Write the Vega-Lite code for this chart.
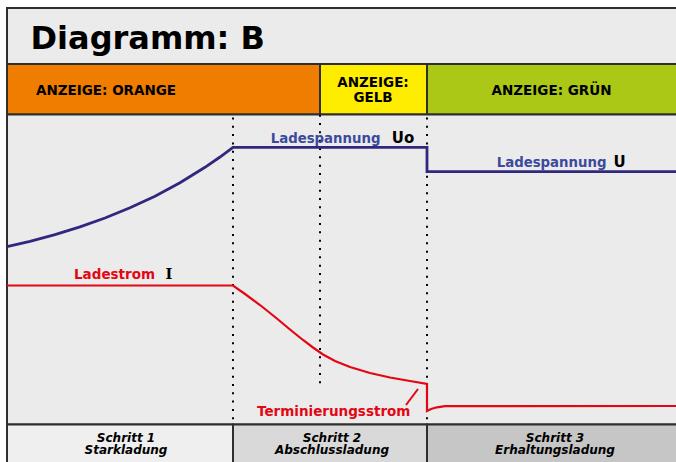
{
  "$schema": "https://vega.github.io/schema/vega-lite/v6.json",
  "width": 676,
  "height": 462,
  "autosize": {"type": "fit", "contains": "padding"},
  "padding": 0,
  "background": "#ffffff",
  "config": {"view": {"stroke": null}},
  "datasets": {
    "flaechen": [
      {"teil": "Titel", "x": 7, "x2": 680, "y": 8, "y2": 64},
      {"teil": "Orange", "x": 7, "x2": 320, "y": 64, "y2": 114.5},
      {"teil": "Gelb", "x": 320, "x2": 427, "y": 64, "y2": 114.5},
      {"teil": "Grün", "x": 427, "x2": 680, "y": 64, "y2": 114.5},
      {"teil": "Diagramm", "x": 7, "x2": 680, "y": 114.5, "y2": 424.5},
      {"teil": "Schritt 1", "x": 7, "x2": 233, "y": 424.5, "y2": 470},
      {"teil": "Schritt 2", "x": 233, "x2": 427, "y": 424.5, "y2": 470},
      {"teil": "Schritt 3", "x": 427, "x2": 680, "y": 424.5, "y2": 470}
    ],
    "kurven": [
      {"kurve": "Spannung", "i": 1, "x": 7, "y": 246.7},
      {"kurve": "Spannung", "i": 2, "x": 30, "y": 241.3},
      {"kurve": "Spannung", "i": 3, "x": 55, "y": 234.6},
      {"kurve": "Spannung", "i": 4, "x": 80, "y": 226.9},
      {"kurve": "Spannung", "i": 5, "x": 105, "y": 218.0},
      {"kurve": "Spannung", "i": 6, "x": 130, "y": 207.8},
      {"kurve": "Spannung", "i": 7, "x": 155, "y": 196.2},
      {"kurve": "Spannung", "i": 8, "x": 180, "y": 182.7},
      {"kurve": "Spannung", "i": 9, "x": 205, "y": 167.3},
      {"kurve": "Spannung", "i": 10, "x": 220, "y": 157.0},
      {"kurve": "Spannung", "i": 11, "x": 233, "y": 147.3},
      {"kurve": "Spannung", "i": 12, "x": 427, "y": 147.3},
      {"kurve": "Spannung", "i": 13, "x": 427, "y": 171.7},
      {"kurve": "Spannung", "i": 14, "x": 680, "y": 171.7},
      {"kurve": "Strom", "i": 1, "x": 7, "y": 285.5},
      {"kurve": "Strom", "i": 2, "x": 233, "y": 285.5},
      {"kurve": "Strom", "i": 3, "x": 245, "y": 294},
      {"kurve": "Strom", "i": 4, "x": 260, "y": 305},
      {"kurve": "Strom", "i": 5, "x": 275, "y": 317},
      {"kurve": "Strom", "i": 6, "x": 290, "y": 329.5},
      {"kurve": "Strom", "i": 7, "x": 303, "y": 340},
      {"kurve": "Strom", "i": 8, "x": 313, "y": 347.5},
      {"kurve": "Strom", "i": 9, "x": 323, "y": 354.5},
      {"kurve": "Strom", "i": 10, "x": 335, "y": 361},
      {"kurve": "Strom", "i": 11, "x": 350, "y": 367},
      {"kurve": "Strom", "i": 12, "x": 370, "y": 373},
      {"kurve": "Strom", "i": 13, "x": 390, "y": 377.5},
      {"kurve": "Strom", "i": 14, "x": 410, "y": 381},
      {"kurve": "Strom", "i": 15, "x": 427, "y": 384},
      {"kurve": "Strom", "i": 16, "x": 427, "y": 411},
      {"kurve": "Strom", "i": 17, "x": 431, "y": 409},
      {"kurve": "Strom", "i": 18, "x": 437, "y": 407.3},
      {"kurve": "Strom", "i": 19, "x": 445, "y": 406.2},
      {"kurve": "Strom", "i": 20, "x": 680, "y": 406}
    ],
    "trenner": [
      {"x": 233, "y": 117.4, "y2": 424},
      {"x": 320, "y": 114.7, "y2": 386},
      {"x": 427, "y": 117.4, "y2": 424}
    ],
    "zeiger": [
      {"x": 406, "y": 405, "x2": 418, "y2": 389}
    ],
    "titel": [
      {"text": "Diagramm: B", "x": 30.5, "y": 48.5}
    ],
    "anzeigen": [
      {"text": "ANZEIGE: ORANGE", "x": 106, "y": 94.7},
      {"text": "ANZEIGE:\nGELB", "x": 373, "y": 87},
      {"text": "ANZEIGE: GRÜN", "x": 551.5, "y": 95}
    ],
    "schritte": [
      {"text": "Schritt 1\nStarkladung", "x": 126, "y": 441.5},
      {"text": "Schritt 2\nAbschlussladung", "x": 332, "y": 441.5},
      {"text": "Schritt 3\nErhaltungsladung", "x": 555, "y": 441.5}
    ],
    "spannungstexte": [
      {"text": "Ladespannung", "x": 270.7, "y": 142.7},
      {"text": "Ladespannung", "x": 496.7, "y": 166.7}
    ],
    "stromtexte": [
      {"text": "Ladestrom", "x": 74, "y": 279.3},
      {"text": "Terminierungsstrom", "x": 257, "y": 416}
    ],
    "symbole": [
      {"text": "Uo", "x": 391.7, "y": 142.7},
      {"text": "U", "x": 613.5, "y": 166.7}
    ],
    "symbolI": [
      {"text": "I", "x": 165.5, "y": 279.3}
    ]
  },
  "encoding": {
    "x": {"field": "x", "type": "quantitative", "scale": {"domain": [0, 676], "nice": false, "zero": false}, "axis": null},
    "y": {"field": "y", "type": "quantitative", "scale": {"domain": [0, 462], "nice": false, "zero": false, "reverse": true}, "axis": null}
  },
  "layer": [
    {
      "data": {"name": "flaechen"},
      "mark": {"type": "rect", "stroke": "#2e2e2e", "strokeWidth": 2, "clip": true},
      "encoding": {
        "x2": {"field": "x2"},
        "y2": {"field": "y2"},
        "fill": {
          "field": "teil",
          "type": "nominal",
          "scale": {
            "domain": ["Titel", "Orange", "Gelb", "Grün", "Diagramm", "Schritt 1", "Schritt 2", "Schritt 3"],
            "range": ["#ebebeb", "#ef7d00", "#ffed00", "#aac815", "#ebebeb", "#efefef", "#d9d9d9", "#c6c6c6"]
          },
          "legend": null
        }
      }
    },
    {
      "data": {"name": "trenner"},
      "mark": {"type": "rule", "color": "#000000", "strokeWidth": 2, "strokeDash": [2, 6.33]},
      "encoding": {"y2": {"field": "y2"}}
    },
    {
      "data": {"name": "kurven"},
      "transform": [{"filter": "datum.kurve === 'Spannung'"}],
      "mark": {"type": "line", "color": "#30287f", "strokeWidth": 2.8, "clip": true},
      "encoding": {"order": {"field": "i", "type": "quantitative"}}
    },
    {
      "data": {"name": "kurven"},
      "transform": [{"filter": "datum.kurve === 'Strom'"}],
      "mark": {"type": "line", "color": "#e30613", "strokeWidth": 2.2, "clip": true},
      "encoding": {"order": {"field": "i", "type": "quantitative"}}
    },
    {
      "data": {"name": "zeiger"},
      "mark": {"type": "rule", "color": "#e30613", "strokeWidth": 2},
      "encoding": {"x2": {"field": "x2"}, "y2": {"field": "y2"}}
    },
    {
      "data": {"name": "titel"},
      "mark": {"type": "text", "font": "DejaVu Sans", "fontWeight": "bold", "fontSize": 32, "align": "left", "baseline": "alphabetic", "color": "#000000"},
      "encoding": {"text": {"field": "text"}}
    },
    {
      "data": {"name": "anzeigen"},
      "mark": {"type": "text", "font": "DejaVu Sans", "fontWeight": "bold", "fontSize": 13.5, "align": "center", "baseline": "alphabetic", "lineBreak": "\n", "lineHeight": 14.5, "color": "#000000"},
      "encoding": {"text": {"field": "text"}}
    },
    {
      "data": {"name": "schritte"},
      "mark": {"type": "text", "font": "DejaVu Sans", "fontWeight": "bold", "fontStyle": "italic", "fontSize": 12, "align": "center", "baseline": "alphabetic", "lineBreak": "\n", "lineHeight": 12.5, "color": "#000000"},
      "encoding": {"text": {"field": "text"}}
    },
    {
      "data": {"name": "spannungstexte"},
      "mark": {"type": "text", "font": "DejaVu Sans", "fontWeight": "bold", "fontSize": 13.3, "align": "left", "baseline": "alphabetic", "color": "#3b4a9c"},
      "encoding": {"text": {"field": "text"}}
    },
    {
      "data": {"name": "stromtexte"},
      "mark": {"type": "text", "font": "DejaVu Sans", "fontWeight": "bold", "fontSize": 13.5, "align": "left", "baseline": "alphabetic", "color": "#e30613"},
      "encoding": {"text": {"field": "text"}}
    },
    {
      "data": {"name": "symbole"},
      "mark": {"type": "text", "font": "DejaVu Sans", "fontWeight": "bold", "fontSize": 15, "align": "left", "baseline": "alphabetic", "color": "#000000"},
      "encoding": {"text": {"field": "text"}}
    },
    {
      "data": {"name": "symbolI"},
      "mark": {"type": "text", "font": "DejaVu Serif", "fontWeight": "bold", "fontSize": 14.5, "align": "left", "baseline": "alphabetic", "color": "#000000"},
      "encoding": {"text": {"field": "text"}}
    }
  ]
}
